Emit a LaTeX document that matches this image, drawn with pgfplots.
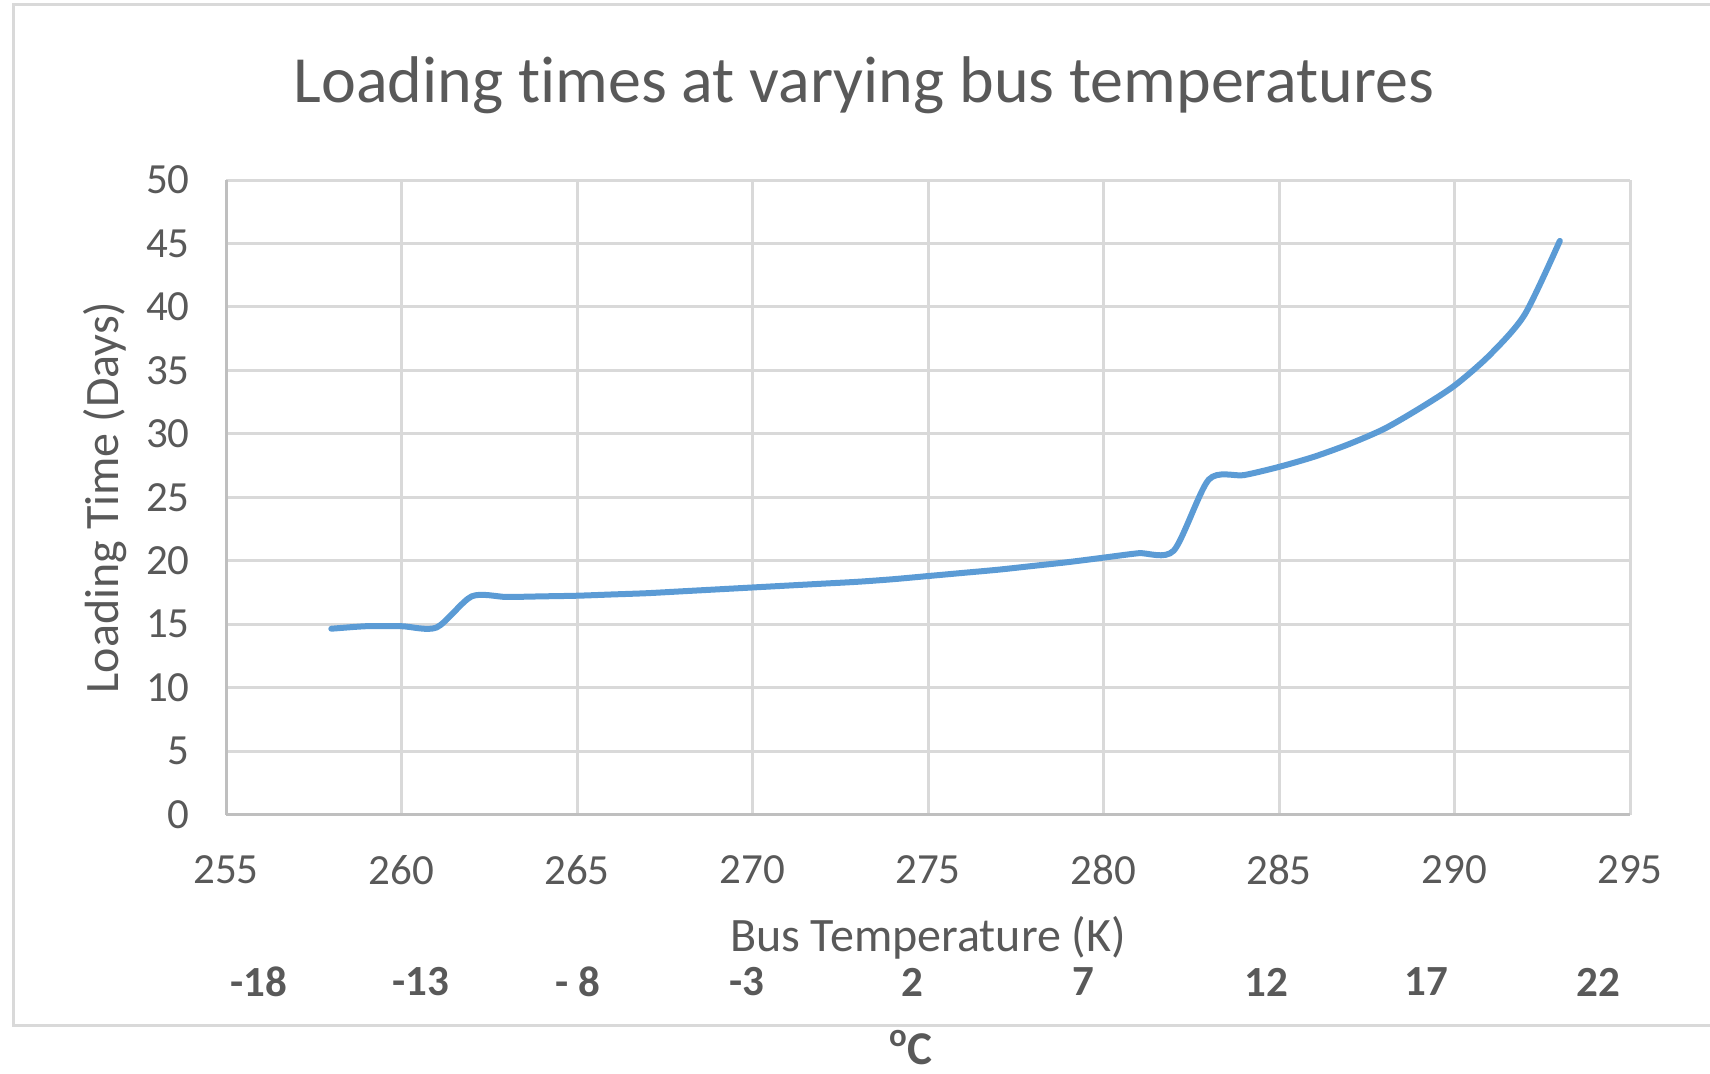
\documentclass[border=0pt]{standalone}
\usepackage{pgfplots}
\pgfplotsset{compat=1.18}
\usepackage{fontspec}
\setmainfont{Carlito}[Ligatures=NoCommon]
\definecolor{textgray}{HTML}{595959}
\definecolor{gridgray}{HTML}{D9D9D9}
\definecolor{axisgray}{HTML}{BFBFBF}
\definecolor{lineblue}{HTML}{5B9BD5}
\pgfplotstableread{
K     days
258   14.65
259   14.85
260   14.85
261   14.75
262   17.2
263   17.15
264   17.2
265   17.25
266   17.35
267   17.45
268   17.6
269   17.75
270   17.9
271   18.05
272   18.2
273   18.35
274   18.55
275   18.8
276   19.05
277   19.3
278   19.6
279   19.9
280   20.25
281   20.6
282   20.8
283   26.4
284   26.75
285   27.4
286   28.2
287   29.2
288   30.4
289   32.0
290   33.8
291   36.2
292   39.4
293   45.2
}\loadtable
\begin{document}
\begin{tikzpicture}
\begin{scope}[x=0.5pt,y=-0.5pt]
\useasboundingbox (0,0) rectangle (1710,1074);
\draw[gridgray, line width=1.5pt] (13,5) rectangle (1740,1025);
\node[font=\fontsize{33}{37}\selectfont, text=textgray, anchor=base] at (864,103) {Loading times at varying bus temperatures};
\end{scope}
\begin{axis}[
  at={(113pt,-407.35pt)}, anchor=south west,
  width=702pt, height=317.35pt, scale only axis,
  xmin=255, xmax=295, ymin=0, ymax=50,
  xtick={255,260,...,295}, ytick={0,5,...,50},
  grid=major,
  major grid style={color=gridgray, line width=1.5pt},
  axis lines*=left,
  axis line style={color=axisgray, line width=1.5pt, -},
  major tick length=0pt,
  /pgf/number format/assume math mode=true,
  tick label style={font=\fontsize{21.5}{24}\selectfont, text=textgray},
  xticklabel style={anchor=center, yshift=-27.6pt},
  yticklabel style={anchor=east, inner sep=0pt, xshift=-18pt},
  xlabel={Bus Temperature (K)},
  ylabel={Loading Time (Days)},
  label style={font=\fontsize{24}{27}\selectfont, text=textgray},
  xlabel style={at={(axis description cs:0.5,-0.1943)}, anchor=center},
  ylabel style={at={(axis description cs:-0.0767,0.5)}, anchor=base, rotate=0},
  clip=false,
]
\addplot[color=lineblue, line width=3pt, smooth, tension=0.45, line cap=round] table[x=K, y=days] {\loadtable};
\end{axis}
\begin{scope}[x=0.5pt,y=-0.5pt, every node/.style={font=\bfseries\fontsize{21.5}{24}\selectfont, text=textgray}]
\node at (258.5,982) {-18};
\node at (421,982) {-13};
\node at (578,982) {- 8};
\node at (747,982) {-3};
\node at (912,982) {2};
\node at (1083,982) {7};
\node at (1266,982) {12};
\node at (1426.5,982) {17};
\node at (1598,982) {22};
\node[font=\bfseries\fontsize{23.5}{27}\selectfont, inner sep=0pt] at (911,1048) {\textsuperscript{o}C};
\end{scope}
\end{tikzpicture}
\end{document}
